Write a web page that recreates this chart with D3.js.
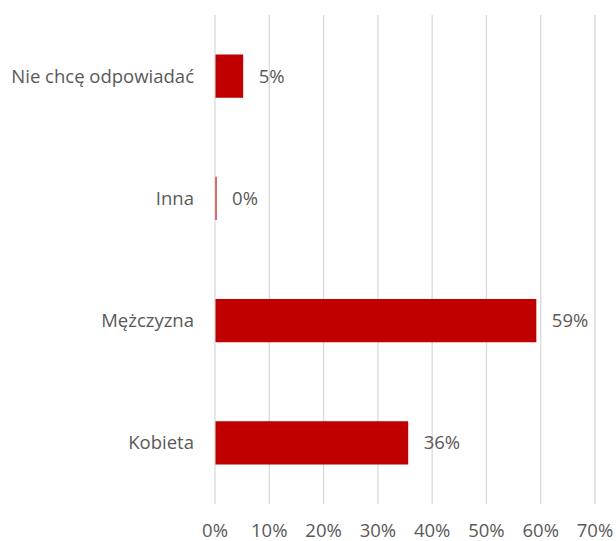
<!DOCTYPE html>
<html>
<head>
<meta charset="utf-8">
<script src="https://cdn.jsdelivr.net/npm/d3@7"></script>
<style>
  body { margin: 0; background: #fff; }
  text { font-family: "Open Sans", sans-serif; fill: #595959; }
</style>
</head>
<body>
<div class="chart"></div>
<script>
var categories = ["Nie chcę odpowiadać", "Inna", "Mężczyzna", "Kobieta"];
var values = [5.1, 0.2, 59.1, 35.5];
var valueLabels = ["5%", "0%", "59%", "36%"];
var ticks = [0, 10, 20, 30, 40, 50, 60, 70];

var svgWidth = 616;
var svgHeight = 541;
var margin = { top: 15, right: 21, bottom: 37, left: 215 };
var width = svgWidth - margin.left - margin.right;
var height = svgHeight - margin.top - margin.bottom;
var fontSize = "18.5px";

var svg = d3.select(".chart")
    .append("svg")
    .attr("width", svgWidth)
    .attr("height", svgHeight);

var chartGroup = svg.append("g")
    .attr("transform", `translate(${margin.left}, ${margin.top})`);

var x = d3.scaleLinear().domain([0, 70]).range([0, width]);
var y = d3.scaleBand().domain(categories).range([0, height])
    .paddingInner(0.646).paddingOuter(0.323);

// gridlines
chartGroup.selectAll(".grid")
    .data(ticks)
    .join("line")
    .attr("x1", d => x(d)).attr("x2", d => x(d))
    .attr("y1", 0).attr("y2", height)
    .attr("stroke", "#d9d9d9")
    .attr("stroke-width", 1.3);

// tick labels
chartGroup.selectAll(".tick-label")
    .data(ticks)
    .join("text")
    .attr("x", d => x(d))
    .attr("y", height + 33)
    .attr("text-anchor", "middle")
    .attr("font-size", fontSize)
    .text(d => d + "%");

// bars
chartGroup.selectAll(".bar")
    .data(values)
    .join("rect")
    .attr("x", x(0) + 0.5)
    .attr("y", (d, i) => y(categories[i]))
    .attr("width", d => x(d))
    .attr("height", y.bandwidth())
    .attr("fill", "#c00000");

// value labels
chartGroup.selectAll(".val")
    .data(values)
    .join("text")
    .attr("x", d => x(d) + 16)
    .attr("y", (d, i) => y(categories[i]) + y.bandwidth() / 2)
    .attr("dy", "0.35em")
    .attr("font-size", fontSize)
    .text((d, i) => valueLabels[i]);

// category labels
chartGroup.selectAll(".cat")
    .data(categories)
    .join("text")
    .attr("x", -21)
    .attr("y", d => y(d) + y.bandwidth() / 2)
    .attr("dy", "0.35em")
    .attr("text-anchor", "end")
    .attr("font-size", fontSize)
    .text(d => d);
</script>
</body>
</html>
